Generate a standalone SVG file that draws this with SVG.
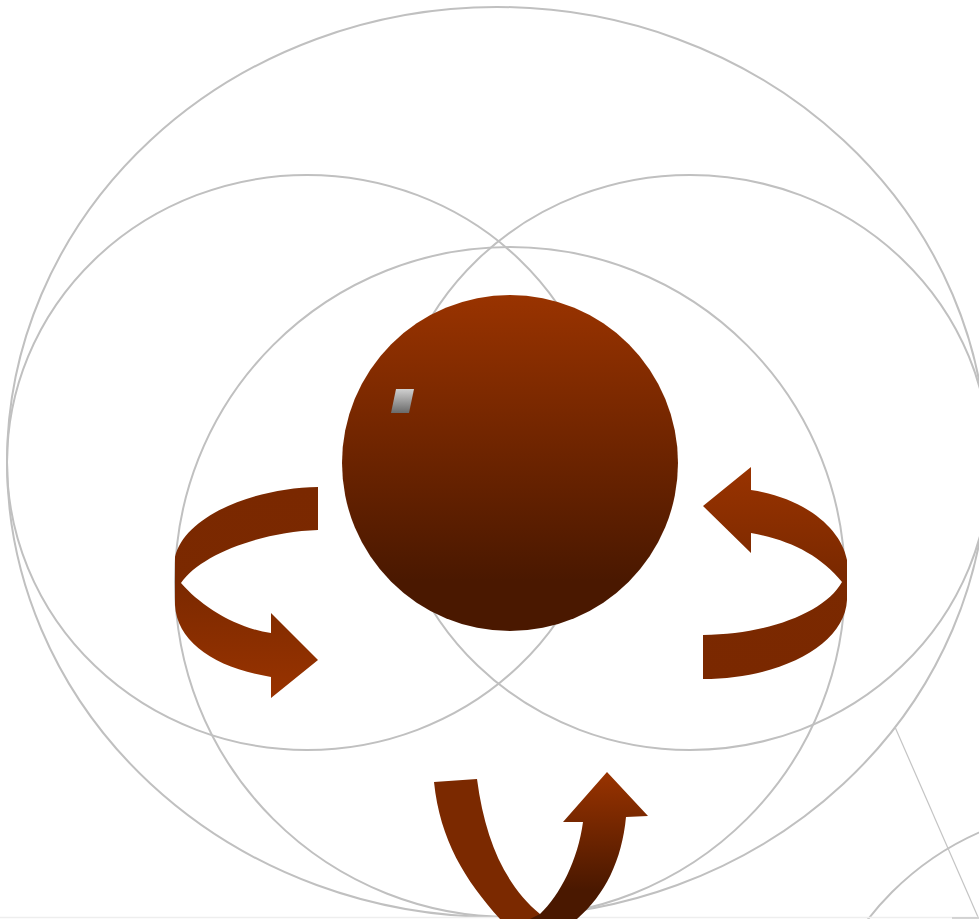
<svg xmlns="http://www.w3.org/2000/svg" width="979" height="919" viewBox="0 0 979 919">
<defs>
<style>
.ring{fill:none;stroke:#c0c0c0;stroke-width:2}
.thin{fill:none;stroke:#c4c4c4;stroke-width:1.2}
</style>
<linearGradient id="sphereG" gradientUnits="userSpaceOnUse" x1="0" y1="295" x2="0" y2="631">
<stop offset="0" stop-color="#993300"/>
<stop offset="0.85" stop-color="#4a1800"/>
<stop offset="1" stop-color="#4a1800"/>
</linearGradient>
<linearGradient id="chipG" gradientUnits="userSpaceOnUse" x1="0" y1="389" x2="0" y2="413">
<stop offset="0" stop-color="#d0d0d0"/>
<stop offset="1" stop-color="#6a6a6a"/>
</linearGradient>
<linearGradient id="leftG" gradientUnits="userSpaceOnUse" x1="0" y1="487" x2="0" y2="698">
<stop offset="0" stop-color="#7a2800"/>
<stop offset="0.45" stop-color="#7b2900"/>
<stop offset="1" stop-color="#993300"/>
</linearGradient>
<linearGradient id="rightG" gradientUnits="userSpaceOnUse" x1="0" y1="467" x2="0" y2="679">
<stop offset="0" stop-color="#993300"/>
<stop offset="0.5" stop-color="#7b2900"/>
<stop offset="1" stop-color="#7a2800"/>
</linearGradient>
<linearGradient id="upG" gradientUnits="userSpaceOnUse" x1="0" y1="772" x2="0" y2="919">
<stop offset="0" stop-color="#993300"/>
<stop offset="0.8" stop-color="#4a1800"/>
<stop offset="1" stop-color="#4a1800"/>
</linearGradient>
</defs>
<rect width="979" height="919" fill="#ffffff"/>
<g id="rings">
<ellipse class="ring" cx="497" cy="462" rx="490" ry="455"/>
<ellipse class="ring" cx="307" cy="462.5" rx="300" ry="287.5"/>
<ellipse class="ring" cx="690" cy="462.5" rx="300" ry="287.5"/>
<circle class="ring" cx="510" cy="582" r="335"/>
<circle class="ring" cx="1095" cy="1095" r="287"/>
</g>
<g id="connectors">
<line class="thin" x1="895" y1="727" x2="978" y2="917"/>
<line x1="0" y1="917.5" x2="979" y2="917.5" stroke="#eeeeee" stroke-width="1.5"/>
<line x1="952" y1="918" x2="979" y2="918" stroke="#c8c8c8" stroke-width="1.5"/>
</g>
<g id="sphere">
<circle cx="510" cy="463" r="168" fill="url(#sphereG)"/>
<polygon points="396,389 414,389 409,413 391,413" fill="url(#chipG)"/>
</g>
<g id="arrow-left">
<path fill="url(#leftG)" d="M318,487 C255,488 185,515 175,557 L175,605 C177,642 215,668 271,677 L271,698 L318,660 L271,613 L271,633 C235,628 200,605 181,583 C200,555 260,532 318,530 Z"/>
</g>
<g id="arrow-right">
<path fill="url(#rightG)" d="M751,490 C800,497 840,525 847,560 L847,600 C845,645 780,679 703,679 L703,635 C770,634 825,612 842,582 C820,555 790,540 751,533 L751,553 L703,506 L751,467 Z"/>
</g>
<g id="arrow-bottom">
<path fill="#7b2900" d="M434,782 L477,779 C485,840 505,885 540,914 L545,919 L500,919 C465,880 440,840 434,782 Z"/>
<path fill="url(#upG)" d="M563,822 L607,772 L648,816 L626,817 C622,860 605,895 577,919 L530,919 L540,914 C560,895 578,860 583,822 Z"/>
</g>
</svg>
